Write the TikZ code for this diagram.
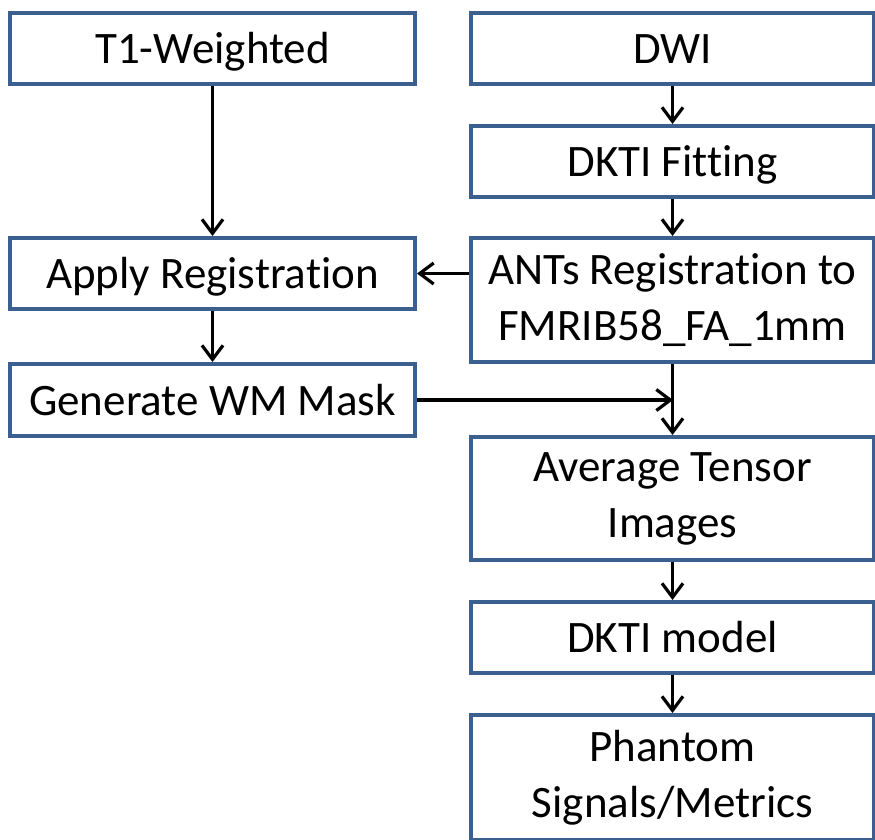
\documentclass[tikz,border=0pt]{standalone}
\usepackage{fontspec}
\setmainfont[Ligatures=NoCommon]{Carlito}
\usepackage{tikz}
\usetikzlibrary{arrows.meta}
\definecolor{colorBox}{HTML}{3B6090}

\tikzset{
  stage/.style={draw=colorBox, line width=4pt, fill=white, inner sep=0pt,
    align=center, font=\fontsize{45}{56}\selectfont},
  leftstage/.style={stage, minimum width=405pt},
  rightstage/.style={stage, minimum width=403pt},
  oneline/.style={minimum height=71pt, text height=30pt, text depth=0pt},
  twoline/.style={minimum height=124pt},
  flow/.style={line width=3.2pt, -{Straight Barb[length=14pt,width=21pt]}}
}

\begin{document}
\begin{tikzpicture}[x=1pt,y=1pt]
        \useasboundingbox (0,0) rectangle (875,-839);
        \begin{scope}
        \clip (0,0) rectangle (875,-839);
        \node[leftstage, oneline] (t1) at (212.5,-48.5) {T1-Weighted};
        \node[rightstage, oneline] (dwi) at (672.5,-48.5) {DWI};
        \node[rightstage, oneline] (fit) at (672.5,-161.5) {DKTI Fitting};
        \node[leftstage, oneline] (apply) at (212.5,-273.5) {Apply Registration};
        \node[rightstage, twoline] (ants) at (672.5,-300) {ANTs Registration to\\FMRIB58\_FA\_1mm};
        \node[leftstage, oneline, minimum height=72pt] (mask) at (212.5,-400) {Generate WM Mask};
        \node[rightstage, twoline, minimum height=123pt] (avg) at (672.5,-498.5) {Average Tensor\\Images};
        \node[rightstage, oneline] (model) at (672.5,-637.5) {DKTI model};
        \node[rightstage, twoline, minimum height=125pt] (phantom) at (672.5,-777.5) {Phantom\\Signals/Metrics};
        \end{scope}
        \coordinate (join) at (673,-400);
        \draw[flow] (t1) -- (apply);
        \draw[flow] (dwi) -- (fit);
        \draw[flow] (fit) -- (ants);
        \draw[flow] (apply.east -| ants.west) -- (apply.east);
        \draw[flow] (apply) -- (mask);
        \draw[flow] (mask.east) -- (join);
        \draw[flow] (ants) -- (avg);
        \draw[flow] (avg) -- (model);
        \draw[flow] (model) -- (phantom);
    \end{tikzpicture}
\end{document}
